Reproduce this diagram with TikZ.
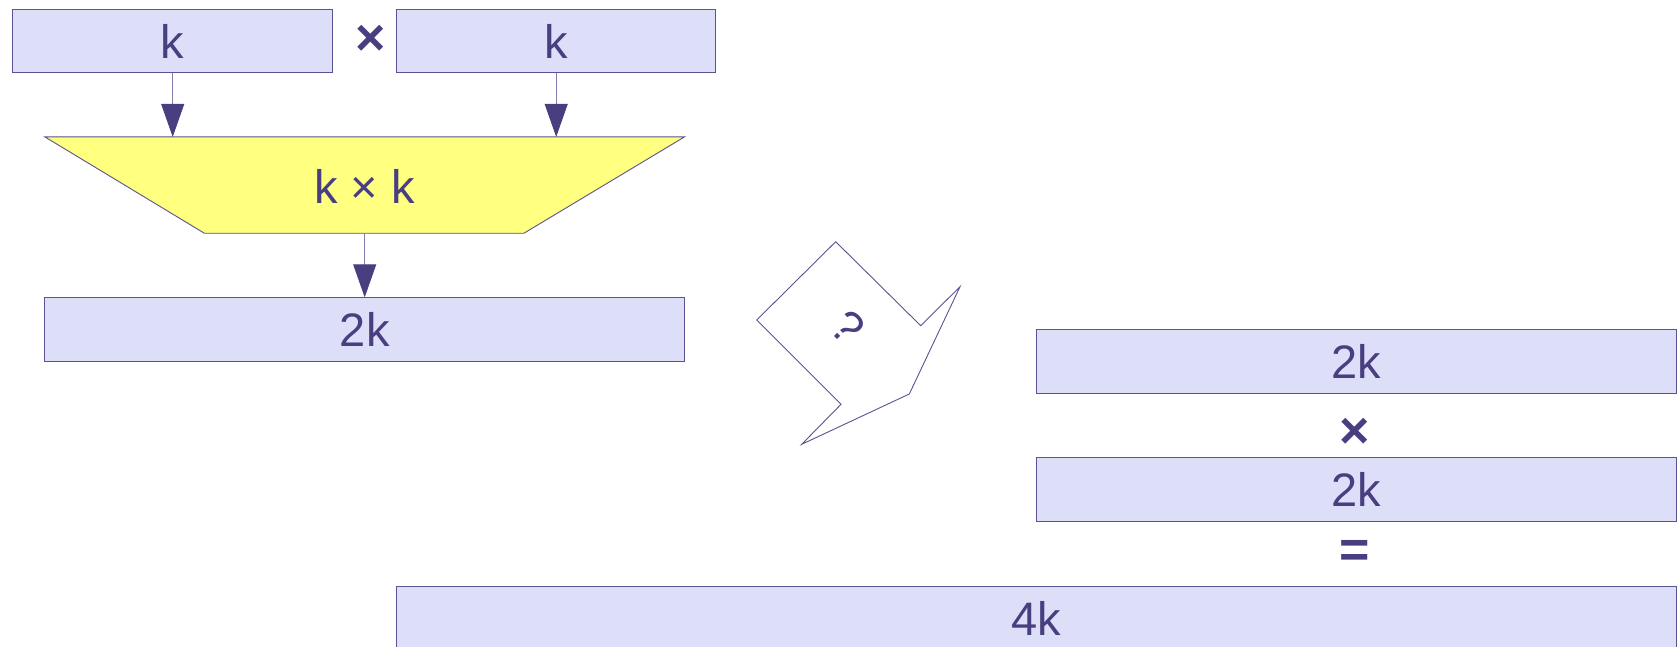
\documentclass[tikz,border=0pt]{standalone}
\usepackage{fontspec}
\setmainfont{Liberation Sans}
\usetikzlibrary{arrows.meta}
\definecolor{boxfill}{RGB}{221,223,248}
\definecolor{boxline}{RGB}{90,82,145}
\definecolor{ink}{RGB}{72,62,128}
\definecolor{conn}{RGB}{130,124,175}
\definecolor{yel}{RGB}{255,255,128}
\tikzset{
  box/.style={draw=boxline, fill=boxfill, line width=0.9pt, inner sep=0pt, outer sep=0pt,
    text=ink, font=\fontsize{47}{47}\selectfont},
  lbl/.style={text=ink, inner sep=0pt, font=\fontsize{47}{47}\selectfont},
  op/.style={text=ink, inner sep=0pt, font=\bfseries\fontsize{52}{52}\selectfont},
  conarrow/.style={draw=conn, line width=0.9pt, -{Triangle[length=33pt,width=23pt,color=ink]}},
}
\begin{document}
\begin{tikzpicture}[x=1pt,y=-1pt]
\useasboundingbox (0,0) rectangle (1677,646);
% top boxes
\node[box, minimum width=319.8pt, minimum height=63.1pt] (k1) at (172.7,41.2) {k};
\node[box, minimum width=319.3pt, minimum height=63.1pt] (k2) at (556.2,41.2) {k};
\node[op] (x1) at (370.5,40) {×};
% trapezoid
\draw[draw=boxline, fill=yel, line width=0.9pt] (44.9,136.9) -- (684.5,136.9) -- (524,233.2) -- (204.3,233.2) -- cycle;
\coordinate (t1) at (172.7,136.9);
\coordinate (t2) at (556.2,136.9);
\coordinate (tb) at (364.7,233.2);
\node[lbl] (kk) at (364.7,186) {k × k};
% result box
\node[box, minimum width=639.6pt, minimum height=64.2pt] (r) at (364.7,329.4) {2k};
\draw[conarrow] (k1.south) -- (t1);
\draw[conarrow] (k2.south) -- (t2);
\draw[conarrow] (tb) -- (r.north);
% callout
\draw[draw=boxline, fill=white, line width=0.9pt] (835.7,241.7) -- (920.7,325.7) -- (960,286.7) -- (909.3,394) -- (801.7,444.3) -- (841,404.3) -- (756.7,320) -- cycle;
\node[text=ink, inner sep=0pt, rotate=-45, font=\fontsize{46}{46}\selectfont] (q) at (847.5,327.5) {?};
% right boxes
\node[box, minimum width=639.7pt, minimum height=64.2pt] (a) at (1356.2,361.5) {2k};
\node[op] (x2) at (1355,433) {×};
\node[box, minimum width=639.7pt, minimum height=64.2pt] (b) at (1356.2,489.8) {2k};
\node[op] (eq) at (1355,554) {=};
\node[box, minimum width=1279.2pt, minimum height=64.2pt] (c) at (1036.4,618.1) {4k};
\end{tikzpicture}
\end{document}
